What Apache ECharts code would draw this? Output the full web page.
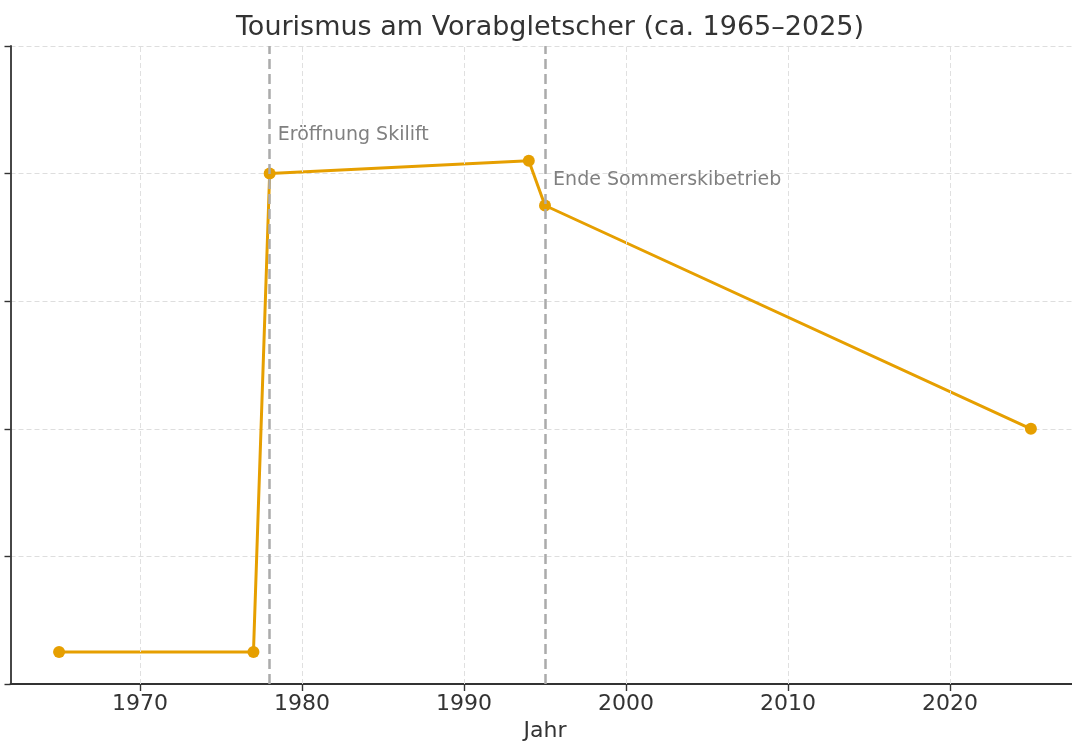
<!DOCTYPE html>
<html>
<head>
<meta charset="utf-8">
<script src="https://cdn.jsdelivr.net/npm/echarts@6/dist/echarts.min.js"></script>
<style>
  html, body { margin: 0; padding: 0; background: #fff; }
  #chart { width: 1072px; height: 742px; }
</style>
</head>
<body>
<div id="chart"></div>
<script>
var years = [1965, 1977, 1978, 1994, 1995, 2025];
var tourism = [5, 5, 80, 82, 75, 40];
var xTicks = [1970, 1980, 1990, 2000, 2010, 2020];
var eventYears = [1978, 1995];
var eventLabels = ['Eröffnung Skilift', 'Ende Sommerskibetrieb'];
var eventLabelY = [86, 79];

var chart = echarts.init(document.getElementById('chart'));
var font = 'DejaVu Sans';

var points = years.map(function (y, i) { return [y, tourism[i]]; });

var option = {
  animation: false,
  textStyle: { fontFamily: font },
  title: {
    text: 'Tourismus am Vorabgletscher (ca. 1965–2025)',
    left: 545,
    textAlign: 'center',
    top: 9,
    textStyle: { fontFamily: font, fontSize: 27, fontWeight: 'normal', color: '#333' }
  },
  grid: { left: 10.5, right: -7.5, top: 46, bottom: 58, outerBoundsMode: 'none' },
  xAxis: {
    type: 'value',
    min: 1962,
    max: 2028,
    name: 'Jahr',
    nameLocation: 'middle',
    nameGap: 34,
    nameTextStyle: { fontFamily: font, fontSize: 22, color: '#333' },
    axisLine: { lineStyle: { color: '#333', width: 1.8 } },
    axisTick: { customValues: xTicks, length: 7, lineStyle: { color: '#333', width: 1.4 } },
    axisLabel: {
      customValues: xTicks,
      fontFamily: font, fontSize: 22, color: '#333', margin: 9,
      formatter: function (v) { return String(v); }
    },
    splitLine: { show: false }
  },
  yAxis: {
    type: 'value',
    min: 0,
    max: 100,
    interval: 20,
    axisLine: { show: true, lineStyle: { color: '#333', width: 1.8 } },
    axisTick: { show: true, length: 6, lineStyle: { color: '#333', width: 1.4 } },
    axisLabel: { show: false },
    splitLine: { lineStyle: { color: '#dedede', type: [5, 3], width: 1 } }
  },
  series: [
    {
      type: 'line',
      silent: true,
      data: [],
      markLine: {
        silent: true,
        symbol: 'none',
        label: { show: false },
        lineStyle: { color: '#e0e0e0', type: [5, 3], width: 1 },
        data: xTicks.map(function (t) { return { xAxis: t }; })
      }
    },
    {
      type: 'line',
      data: points,
      color: '#e69f00',
      symbol: 'circle',
      symbolSize: 12,
      lineStyle: { width: 3, color: '#e69f00' },
      itemStyle: { color: '#e69f00' },
      z: 3
    },
    {
      type: 'line',
      silent: true,
      data: [],
      z: 4,
      markLine: {
        silent: true,
        symbol: 'none',
        label: { show: false },
        lineStyle: { color: '#ababab', type: [10, 5], width: 2.5 },
        data: eventYears.map(function (y) { return { xAxis: y }; })
      },
      markPoint: {
        symbol: 'circle',
        symbolSize: 0,
        label: {
          show: true,
          position: 'right',
          distance: 0,
          fontFamily: font,
          fontSize: 19,
          color: '#808080'
        },
        data: eventYears.map(function (y, i) {
          return { coord: [y + 0.5, eventLabelY[i]], value: eventLabels[i],
                   label: { formatter: eventLabels[i] } };
        })
      }
    }
  ]
};

chart.setOption(option);
</script>
</body>
</html>
